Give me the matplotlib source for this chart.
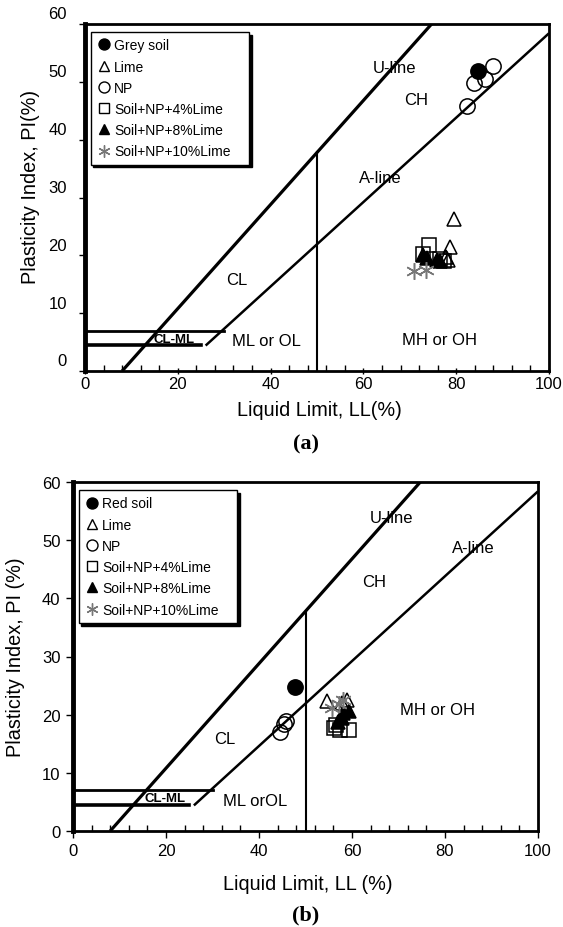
import numpy as np
import matplotlib
matplotlib.use("Agg")
import matplotlib.pyplot as plt
from matplotlib.lines import Line2D
from matplotlib.transforms import ScaledTranslation

plt.rcParams['font.family'] = ['Liberation Sans', 'DejaVu Sans']

# ---- plasticity chart reference lines (LL, PI end points) ----
u_line_ll = [8, 74.7]
u_line_pi = [0, 60]
a_line_ll = [26, 100]
a_line_pi = [4.4, 58.4]
ll50_pi = [0, 37.8]
clml_top = [0, 30, 7]      # x0, x1, PI
clml_bottom = [0, 25, 4.5]

# ---- panel (a): grey soil ----
a_soil_ll, a_soil_pi = [84.7], [51.9]
a_lime_ll = [79.6, 78.7, 77.9, 78.3]
a_lime_pi = [26.3, 21.4, 19.7, 19.2]
a_np_ll = [88.0, 83.9, 86.2, 82.4]
a_np_pi = [52.8, 49.8, 50.5, 45.8]
a_l4_ll = [74.1, 72.8, 76.6, 77.4]
a_l4_pi = [21.8, 20.3, 19.3, 19.0]
a_l8_ll = [72.8, 73.6, 75.8, 76.5]
a_l8_pi = [20.0, 19.6, 19.2, 19.0]
a_l10_ll = [70.9, 73.4]
a_l10_pi = [17.3, 17.5]

# ---- panel (b): red soil ----
b_soil_ll, b_soil_pi = [47.8], [24.7]
b_lime_ll = [54.6, 58.9, 57.8]
b_lime_pi = [22.3, 22.5, 22.0]
b_np_ll = [45.8, 45.3, 44.6]
b_np_pi = [18.9, 18.4, 17.1]
b_l4_ll = [56.2, 57.4, 59.3, 56.6]
b_l4_pi = [17.7, 17.4, 17.4, 18.3]
b_l8_ll = [57.0, 58.1, 59.3, 57.8]
b_l8_pi = [18.8, 20.3, 20.6, 19.4]
b_l10_ll = [55.7, 58.1, 57.2]
b_l10_pi = [21.2, 22.6, 21.9]

x_ticks = [0, 20, 40, 60, 80, 100]
y_ticks = [0, 10, 20, 30, 40, 50, 60]
labels = ['Grey soil', 'Lime', 'NP', 'Soil+NP+4%Lime', 'Soil+NP+8%Lime', 'Soil+NP+10%Lime']

# marker styles: marker, face, edge, size
star6 = (6, 2, 0)
styles = [
    ('o', 'black', 'black', 11),
    ('^', 'none', 'black', 10),
    ('o', 'none', 'black', 11),
    ('s', 'none', 'black', 9.5),
    ('^', 'black', 'black', 10),
    (star6, 'none', '#777777', 12),
]


def draw_chart(ax, data, soil_label, zone_text, ylab, xlab, tag, ylab_x, ylab_y, xlab_y, tag_x, tag_y):
    # chart lines
    ax.plot(u_line_ll, u_line_pi, color='black', lw=2.3, solid_capstyle='butt', zorder=2)
    ax.plot(a_line_ll, a_line_pi, color='black', lw=1.8, solid_capstyle='butt', zorder=2)
    ax.plot([50, 50], ll50_pi, color='black', lw=1.5, zorder=2)
    ax.plot(clml_top[:2], [clml_top[2]] * 2, color='black', lw=2.0, zorder=2)
    ax.plot(clml_bottom[:2], [clml_bottom[2]] * 2, color='black', lw=2.6, zorder=2)

    # data series (draw order: open first, soil last)
    order = [2, 1, 3, 4, 5, 0]
    for i in order:
        m, fc, ec, ms = styles[i]
        ll, pi = data[i]
        ax.plot(ll, pi, ls='none', marker=m, mfc=fc, mec=ec, ms=ms, mew=1.1, zorder=3)

    # zone labels
    for txt, x, y, kw in zone_text:
        ax.text(x, y, txt, ha='center', va='center', **kw)

    ax.set_xlim(0, 100)
    ax.set_ylim(0, 60)
    ax.set_xticks(x_ticks)
    ax.set_yticks(y_ticks)
    ax.set_xticks(np.arange(0, 101, 4), minor=True)
    ax.tick_params(axis='x', which='minor', direction='in', length=4, width=1)
    ax.tick_params(axis='both', which='major', labelsize=12, width=1)
    for s in ['top', 'right', 'bottom']:
        ax.spines[s].set_linewidth(2.0)
    ax.spines['left'].set_linewidth(3.5)

    ax.set_ylabel(ylab, fontsize=14.3, va='center')
    ax.yaxis.set_label_coords(ylab_x, ylab_y)
    ax.set_xlabel(xlab, fontsize=14.3, va='center')
    ax.xaxis.set_label_coords(0.505, xlab_y)
    ax.text(tag_x, tag_y, tag, transform=ax.transAxes, ha='center', va='center',
            fontsize=16, fontweight='bold', family='Liberation Serif')

    # legend
    handles = []
    for i, (m, fc, ec, ms) in enumerate(styles):
        lab = soil_label if i == 0 else labels[i]
        handles.append(Line2D([], [], ls='none', marker=m, mfc=fc, mec=ec, ms=ms * 0.72, mew=1.0, label=lab))
    leg = ax.legend(handles=handles, loc='upper left', bbox_to_anchor=(1.2, 36.4, 34.1, 22.2),
                    bbox_transform=ax.transData, mode='expand', borderaxespad=0, borderpad=0.45,
                    handlelength=1.1, handletextpad=0.15, labelspacing=0.52, fontsize=10,
                    fancybox=False, edgecolor='black', framealpha=1,
                    shadow={'color': 'black', 'alpha': 1})
    leg.get_frame().set_linewidth(1.0)


fig = plt.figure(figsize=(5.63, 9.28), dpi=100)

# panel (a)
ax1 = fig.add_axes([85 / 563, 1 - 372 / 928, 464 / 563, 347 / 928])
data_a = [(a_soil_ll, a_soil_pi), (a_lime_ll, a_lime_pi), (a_np_ll, a_np_pi),
          (a_l4_ll, a_l4_pi), (a_l8_ll, a_l8_pi), (a_l10_ll, a_l10_pi)]
zones_a = [('U-line', 66.7, 52.5, {}), ('CH', 71.3, 47.0, {}), ('A-line', 63.6, 33.5, {}),
           ('CL', 32.6, 15.8, {}), ('ML or OL', 39.0, 5.2, {}), ('MH or OH', 76.4, 5.5, {}),
           ('CL-ML', 19.3, 5.6, {'fontsize': 9.5, 'fontweight': 'bold'})]
zones_a = [(t, x, y, dict({'fontsize': 12}, **k)) for t, x, y, k in zones_a]
draw_chart(ax1, data_a, 'Grey soil', zones_a, 'Plasticity Index, PI(%)', 'Liquid Limit, LL(%)', '(a)',
           -0.117, 0.534, -0.11, 0.477, -0.21)
ax1.tick_params(axis='y', which='major', direction='out', length=4, pad=9)
ax1.tick_params(axis='x', which='major', direction='inout', length=5, pad=1)
# y labels in (a) sit a bit above their ticks
for lab in ax1.get_yticklabels():
    lab.set_transform(lab.get_transform() + ScaledTranslation(0, 11.6 / 100, fig.dpi_scale_trans))

# panel (b)
ax2 = fig.add_axes([73 / 563, 1 - 832 / 928, 465 / 563, 349 / 928])
data_b = [(b_soil_ll, b_soil_pi), (b_lime_ll, b_lime_pi), (b_np_ll, b_np_pi),
          (b_l4_ll, b_l4_pi), (b_l8_ll, b_l8_pi), (b_l10_ll, b_l10_pi)]
zones_b = [('U-line', 68.6, 53.9, {}), ('A-line', 86.0, 48.7, {}), ('CH', 64.7, 42.9, {}),
           ('MH or OH', 78.3, 20.9, {}), ('CL', 32.6, 15.9, {}), ('ML orOL', 39.1, 5.2, {}),
           ('CL-ML', 19.8, 5.6, {'fontsize': 9.5, 'fontweight': 'bold'})]
zones_b = [(t, x, y, dict({'fontsize': 12}, **k)) for t, x, y, k in zones_b]
draw_chart(ax2, data_b, 'Red soil', zones_b, 'Plasticity Index, PI (%)', 'Liquid Limit, LL (%)', '(b)',
           -0.123, 0.502, -0.149, 0.50, -0.24)
ax2.tick_params(axis='y', which='major', direction='out', length=5, pad=4)
ax2.tick_params(axis='x', which='major', direction='out', length=5, pad=4)

fig.savefig('out.png', dpi=100)
